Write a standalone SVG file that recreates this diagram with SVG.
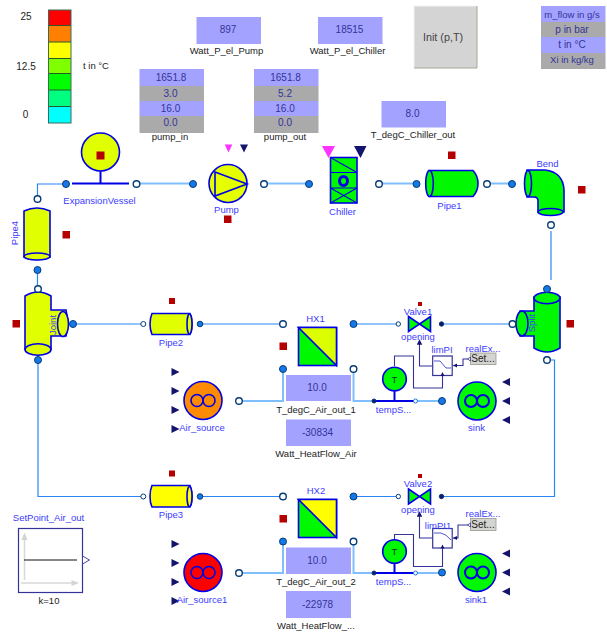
<svg xmlns="http://www.w3.org/2000/svg" width="607" height="633" viewBox="0 0 607 633">
<style>
text{font-family:"Liberation Sans",Arial,sans-serif;font-size:9.5px;text-anchor:middle}
.l{fill:#3c3cff}
.k{fill:#222}
.v{fill:#33339a;font-size:10px}
.vb{fill:#a3a3ff}
.vg{fill:#aaa}
.s{stroke:#0000e6;stroke-width:1.6}
.y{fill:#e0ff00}
.yy{fill:#ffff00}
.g{fill:#00f800}
.r{fill:#b40000}
.n{fill:#14146e}
.m{fill:#ff33ff}
.pf{fill:#1478e6;stroke:#063c78;stroke-width:1}
.po{fill:#fff;stroke:#063c78;stroke-width:1.4}
.c1{fill:none;stroke:#80bfff;stroke-width:2}
.c2{fill:none;stroke:#2a86f5;stroke-width:1.2}
.c3{fill:none;stroke:#33339a;stroke-width:1.1}
.bar{fill:none;stroke:#0000e6;stroke-width:2}
.o{fill:none;stroke:#0000e6;stroke-width:1.6}
</style>
<defs>
<marker id="up" markerWidth="6" markerHeight="6" refX="2.5" refY="2.5" orient="auto"><path d="M0 0L5 2.5L0 5Z" fill="#14146e"/></marker>
</defs>

<g id="connectors">
<path class="c1" d="M136.500 183.500H193M264 183.500H309M379 183.500H416.500M487 183.500H512"/>
<path class="c2" d="M66 184H37.500V199M37.500 270V289"/>
<path class="c2" d="M73 324H143M200 324H283M353.500 324H398M441.500 324H512.500"/>
<path class="c2" d="M38 360V496.500H143M200 496.500H283M353.500 496.500H398M441.500 496.500H554.500V360H547"/>
<path class="c2" d="M551 231V280"/>
<path class="c1" d="M239 401H283V369M239 573H283V541.500"/>
<path class="c1" d="M353.500 369V401H374M416 401H442M353.500 541.500V573H374M416 573H442"/>
<path class="c3" d="M394.500 366V356H413.500V388H442.500V376"/>
<path class="c3" d="M432 366H419.500V342" marker-end="url(#up)"/>
<path class="c3" d="M470 359H463V365.500H453"/>
<path class="c3" d="M394.500 539V534.500H413.500V566.500H442.500V548"/>
<path class="c3" d="M432 538H419.500V514" marker-end="url(#up)"/>
<path class="c3" d="M470 525H458V538H453"/>
</g>

<g id="ColorBar">
<rect x="48.500" y="10" width="22.500" height="15.500" fill="#ff0000"/>
<rect x="48.500" y="25.500" width="22.500" height="16.500" fill="#ff8000"/>
<rect x="48.500" y="42" width="22.500" height="16.500" fill="#ffff00"/>
<rect x="48.500" y="58.500" width="22.500" height="15" fill="#80ff00"/>
<rect x="48.500" y="73.500" width="22.500" height="16.500" fill="#00ff00"/>
<rect x="48.500" y="90" width="22.500" height="16.500" fill="#00ff80"/>
<rect x="48.500" y="106.500" width="22.500" height="16.500" fill="#00ffff"/>
<path d="M48.500 25.500H71M48.500 42H71M48.500 58.500H71M48.500 73.500H71M48.500 90H71M48.500 106.500H71" stroke="#2a5a2a" stroke-width="1" fill="none"/>
<rect x="48.500" y="10" width="22.500" height="113" fill="none" stroke="#3a6a5a" stroke-width="1"/>
<text class="k" x="26" y="20" style="font-size:10px">25</text>
<text class="k" x="26" y="70" style="font-size:10px">12.5</text>
<text class="k" x="25.500" y="117.500" style="font-size:10px">0</text>
<text class="k" x="96" y="69">t in °C</text>
</g>

<g id="Watt_P_el_Pump">
<rect class="vb" x="196.500" y="17" width="64.500" height="27"/>
<text class="v" x="228" y="33">897</text>
<text class="k" x="226.500" y="54">Watt_P_el_Pump</text>
</g>
<g id="Watt_P_el_Chiller">
<rect class="vb" x="318" y="17" width="64.500" height="27"/>
<text class="v" x="349.500" y="33">18515</text>
<text class="k" x="347.500" y="54">Watt_P_el_Chiller</text>
</g>
<g id="pump_in">
<rect class="vb" x="139.500" y="69" width="64.500" height="17"/>
<rect class="vg" x="139.500" y="86" width="64.500" height="15"/>
<rect class="vb" x="139.500" y="101" width="64.500" height="15"/>
<rect class="vg" x="139.500" y="116" width="64.500" height="17"/>
<text class="v" x="171" y="81">1651.8</text>
<text class="v" x="170.500" y="97">3.0</text>
<text class="v" x="170.500" y="111.500">16.0</text>
<text class="v" x="170.500" y="126">0.0</text>
<text class="k" x="170" y="140">pump_in</text>
</g>
<g id="pump_out">
<rect class="vb" x="254" y="69" width="64.500" height="17"/>
<rect class="vg" x="254" y="86" width="64.500" height="15"/>
<rect class="vb" x="254" y="101" width="64.500" height="15"/>
<rect class="vg" x="254" y="116" width="64.500" height="17"/>
<text class="v" x="285.500" y="81">1651.8</text>
<text class="v" x="285" y="97">5.2</text>
<text class="v" x="285" y="111.500">16.0</text>
<text class="v" x="285" y="126">0.0</text>
<text class="k" x="285" y="140">pump_out</text>
</g>
<g id="Init">
<rect x="414" y="6" width="63" height="62" fill="#d4d4d4"/>
<path d="M414 68V6H477" fill="none" stroke="#f2f2f2"/>
<path d="M414 68H477V6" fill="none" stroke="#a8a898"/>
<text x="443" y="40.500" fill="#444" style="font-size:10.800px">Init (p,T)</text>
</g>
<g id="Legend">
<rect class="vb" x="541" y="6" width="64.500" height="16"/>
<rect class="vg" x="541" y="22" width="64.500" height="15"/>
<rect class="vb" x="541" y="37" width="64.500" height="16"/>
<rect class="vg" x="541" y="53" width="64.500" height="16"/>
<text class="v" x="572" y="17.500" style="font-size:9.500px">m_flow in g/s</text>
<text class="v" x="572" y="33">p in bar</text>
<text class="v" x="572" y="48">t in °C</text>
<text class="v" x="572" y="62.500" style="font-size:9.500px">Xi in kg/kg</text>
</g>
<g id="T_degC_Chiller_out">
<rect class="vb" x="381.500" y="101" width="64.500" height="26.500"/>
<text class="v" x="412.500" y="117">8.0</text>
<text class="k" x="413" y="138">T_degC_Chiller_out</text>
</g>

<g id="ExpansionVessel">
<circle class="y s" cx="100.500" cy="152" r="19"/>
<rect class="r" x="96.500" y="151.500" width="8" height="8"/>
<path class="bar" d="M72 183.500H129M100.500 171V183.500"/>
<circle class="pf" cx="66" cy="184" r="3.500"/>
<circle class="po" cx="136.500" cy="184" r="3.300"/>
<text class="l" x="99.500" y="203.500">ExpansionVessel</text>
</g>
<g id="Pump">
<path class="m" d="M224.700 144.500H232.300L228.500 152.500Z"/>
<path class="n" d="M240 144.500H248L244 152.500Z"/>
<circle class="yy s" cx="228" cy="183.500" r="19" style="fill:#e6ff00"/>
<path class="o" d="M215 172L247 184L215 196Z"/>
<rect class="r" x="224" y="215.500" width="7.500" height="7.500"/>
<circle class="pf" cx="193" cy="184" r="3.500"/>
<circle class="po" cx="264" cy="184" r="3.300"/>
<text class="l" x="226.500" y="213">Pump</text>
</g>
<g id="Chiller">
<path class="m" d="M322 146H335L328.500 158Z"/>
<path class="n" d="M354 146H366.500L360.500 158Z"/>
<rect class="g s" x="330.500" y="157.500" width="26.500" height="45.500"/>
<path class="o" d="M330.500 172.500H357M330.500 188H357M330.500 157.500L357 172.500M330.500 188L357 203M357 188L330.500 203" style="stroke-width:1.100"/>
<ellipse cx="343.500" cy="181" rx="4" ry="4.500" fill="none" stroke="#0000e6" stroke-width="3"/>
<circle class="pf" cx="309" cy="184" r="3.500"/>
<circle class="po" cx="379" cy="184" r="3.300"/>
<text class="l" x="342.500" y="215">Chiller</text>
</g>
<g id="Pipe1">
<path class="g s" d="M429 170.500H473Q478 176 478 183.500Q478 191 473 196.500H429Q426 190 426 183.500Q426 177 429 170.500Z"/>
<ellipse class="g s" cx="429.500" cy="183.500" rx="3.800" ry="13"/>
<rect class="r" x="448" y="151.500" width="7.500" height="7.500"/>
<circle class="pf" cx="416.500" cy="184" r="3.500"/>
<circle class="po" cx="487" cy="184" r="3.300"/>
<text class="l" x="449.500" y="209">Pipe1</text>
</g>
<g id="Bend">
<path class="g s" d="M527 170H545Q563 172 564 190V212H538V201Q538 197 534 197H527Z"/>
<ellipse class="g s" cx="528" cy="183.500" rx="3.500" ry="13"/>
<ellipse class="g s" cx="550.500" cy="212" rx="12.500" ry="3.500"/>
<rect class="r" x="578" y="186" width="7.500" height="7.500"/>
<circle class="pf" cx="512" cy="184" r="3.500"/>
<circle class="po" cx="551" cy="225" r="3.300"/>
<text class="l" x="547.500" y="166.500">Bend</text>
</g>
<g id="Pipe4">
<path class="y s" d="M24 211Q37 205 50 211V257Q37 262 24 257Z"/>
<ellipse class="y s" cx="37" cy="256.500" rx="13" ry="3.500"/>
<rect class="r" x="62.500" y="231" width="7.500" height="7.500"/>
<circle class="po" cx="37.500" cy="199" r="3.300"/>
<circle class="pf" cx="37.500" cy="270" r="3.500"/>
<text class="l" x="0" y="0" transform="translate(17.500 233) rotate(-90)">Pipe4</text>
</g>
<g id="Joint">
<path class="y s" d="M25 296Q38 288 51 296V310H66Q69 323 66 336H51V349Q38 358 25 349Z"/>
<ellipse class="y s" cx="38" cy="349.500" rx="13" ry="5.800"/>
<ellipse class="y s" cx="63" cy="324" rx="5.500" ry="12.500"/>
<rect class="r" x="12.500" y="320" width="7.500" height="7.500"/>
<circle class="po" cx="38" cy="289" r="3.300"/>
<circle class="pf" cx="38" cy="360" r="3.500"/>
<circle class="pf" cx="73" cy="324" r="3.500"/>
<text class="l" x="0" y="0" transform="translate(56 325) rotate(-90)">Joint</text>
</g>
<g id="Pipe2">
<path class="y s" d="M152 313.500H190Q192 318 192 324Q192 330 190 334.500H152Q150 330 150 324Q150 318 152 313.500Z"/>
<ellipse class="y s" cx="189.500" cy="324" rx="2.500" ry="10"/>
<rect class="r" x="169" y="298" width="6" height="6"/>
<circle class="pf" cx="143.300" cy="324" r="2.500" style="fill:#fff"/>
<circle class="pf" cx="200" cy="324" r="2.800"/>
<text class="l" x="171" y="346">Pipe2</text>
</g>
<g id="Pipe3">
<path class="yy s" d="M152 485.500H190Q192 490 192 496.500Q192 503 190 507H152Q150 503 150 496.500Q150 490 152 485.500Z"/>
<ellipse class="yy s" cx="189.500" cy="496.500" rx="2.500" ry="10"/>
<rect class="r" x="169" y="470.500" width="6" height="6"/>
<circle class="pf" cx="143.300" cy="496.500" r="2.500" style="fill:#fff"/>
<circle class="pf" cx="200" cy="496.500" r="2.800"/>
<text class="l" x="171" y="518">Pipe3</text>
</g>
<g id="HX1">
<rect class="g s" x="298.500" y="327.500" width="38" height="38"/>
<path d="M298.500 327.500H336.500V365.500Z" fill="#dcff00" stroke="#0000e6" stroke-width="1.600"/>
<rect class="r" x="279.500" y="342.500" width="7.500" height="7.500"/>
<circle class="po" cx="283" cy="324" r="3.300"/>
<circle class="pf" cx="353.500" cy="324" r="3.500"/>
<circle class="pf" cx="283" cy="369" r="3.500"/>
<circle class="po" cx="353.500" cy="369" r="3.300"/>
<text class="l" x="315.500" y="322">HX1</text>
</g>
<g id="HX2">
<rect class="g s" x="298.500" y="499.500" width="38" height="38"/>
<path d="M298.500 499.500H336.500V537.500Z" fill="#ffff00" stroke="#0000e6" stroke-width="1.600"/>
<rect class="r" x="279.500" y="515" width="7.500" height="7.500"/>
<circle class="po" cx="283" cy="496.500" r="3.300"/>
<circle class="pf" cx="353.500" cy="496.500" r="3.500"/>
<circle class="pf" cx="283" cy="541.500" r="3.500"/>
<circle class="po" cx="353.500" cy="541.500" r="3.300"/>
<text class="l" x="316" y="494">HX2</text>
</g>
<g id="Valve1">
<path class="g s" d="M408.500 316.500L430.500 331.500V316.500L408.500 331.500Z"/>
<rect class="r" x="418" y="302" width="4" height="4"/>
<circle class="pf" cx="398.300" cy="324" r="2.200" style="fill:#fff"/>
<circle class="pf" cx="441.500" cy="324" r="2.200" style="fill:#14146e"/>
<text class="l" x="418" y="315">Valve1</text>
<text class="l" x="418" y="339.500">opening</text>
</g>
<g id="Valve2">
<path class="g s" d="M408.500 489L430.500 504V489L408.500 504Z"/>
<rect class="r" x="418" y="474" width="4" height="4"/>
<circle class="pf" cx="398.300" cy="496.500" r="2.200" style="fill:#fff"/>
<circle class="pf" cx="441.500" cy="496.500" r="2.200" style="fill:#14146e"/>
<text class="l" x="418" y="487">Valve2</text>
<text class="l" x="418" y="512.500">opening</text>
</g>
<g id="Split">
<path class="g s" d="M534 297V311H520Q516 323 520 336H534V348Q547 356 560 348V297Z"/>
<ellipse class="g s" cx="547" cy="298" rx="13" ry="5.800"/>
<ellipse class="g s" cx="522" cy="323.500" rx="6" ry="12.500"/>
<rect class="r" x="566.500" y="320" width="7.500" height="7.500"/>
<circle class="pf" cx="547" cy="289" r="3.500"/>
<circle class="po" cx="547" cy="360" r="3.300"/>
<circle class="po" cx="512.500" cy="324" r="3.300"/>
<text class="l" x="0" y="0" transform="translate(535 323) rotate(-90)">Split</text>
</g>
<g id="Air_source">
<path class="n" d="M171.500 368L179.500 372L171.500 376ZM171.500 387L179.500 391L171.500 395ZM171.500 406L179.500 410L171.500 414ZM171.500 425L179.500 429L171.500 433Z"/>
<circle class="s" cx="203" cy="400.500" r="19" fill="#ff8c00"/>
<circle class="o" cx="197" cy="400.500" r="6"/><circle class="o" cx="209" cy="400.500" r="6"/>
<circle class="po" cx="239" cy="401" r="3.300"/>
<text class="l" x="202" y="430.500">Air_source</text>
</g>
<g id="Air_source1">
<path class="n" d="M171.500 540L179.500 544L171.500 548ZM171.500 559L179.500 563L171.500 567ZM171.500 578L179.500 582L171.500 586ZM171.500 597L179.500 601L171.500 605Z"/>
<circle class="s" cx="203" cy="572.500" r="19" fill="#ff0000"/>
<circle class="o" cx="197" cy="572.500" r="6"/><circle class="o" cx="209" cy="572.500" r="6"/>
<circle class="po" cx="239" cy="573" r="3.300"/>
<text class="l" x="202" y="602.500">Air_source1</text>
</g>
<g id="T_degC_Air_out_1">
<rect class="vb" x="286" y="375" width="65" height="26"/>
<text class="v" x="317" y="391">10.0</text>
<text class="k" x="316" y="413">T_degC_Air_out_1</text>
</g>
<g id="Watt_HeatFlow_Air">
<rect class="vb" x="286" y="419.500" width="65" height="26.500"/>
<text class="v" x="317.500" y="435.500">-30834</text>
<text class="k" x="316" y="456.500">Watt_HeatFlow_Air</text>
</g>
<g id="T_degC_Air_out_2">
<rect class="vb" x="286" y="547.500" width="65" height="26.500"/>
<text class="v" x="317" y="563.500">10.0</text>
<text class="k" x="316" y="585">T_degC_Air_out_2</text>
</g>
<g id="Watt_HeatFlow_2">
<rect class="vb" x="286" y="591" width="65" height="27"/>
<text class="v" x="317.500" y="607.500">-22978</text>
<text class="k" x="316" y="628.500">Watt_HeatFlow_...</text>
</g>
<g id="tempSensor1">
<path class="bar" d="M374 401H416M394.500 391V401"/>
<circle class="g s" cx="394.500" cy="379" r="11.800"/>
<text x="394.500" y="382.500" fill="#063c28">T</text>
<circle class="pf" cx="374" cy="401" r="2" style="fill:#14146e"/>
<circle class="pf" cx="415.500" cy="401" r="2" style="fill:#fff;stroke:#1478e6"/>
<circle class="pf" cx="442" cy="401" r="3.500"/>
<text class="l" x="393.500" y="412.500">tempS...</text>
</g>
<g id="tempSensor2">
<path class="bar" d="M374 573H416M394.500 563V573"/>
<circle class="g s" cx="394.500" cy="551.500" r="11.800"/>
<text x="394.500" y="555" fill="#063c28">T</text>
<circle class="pf" cx="374" cy="573" r="2" style="fill:#14146e"/>
<circle class="pf" cx="415.500" cy="573" r="2" style="fill:#fff;stroke:#1478e6"/>
<circle class="pf" cx="442" cy="572.500" r="3.500"/>
<text class="l" x="393.500" y="584.500">tempS...</text>
</g>
<g id="limPI">
<rect x="432.700" y="356" width="19.500" height="19.500" fill="#fff" stroke="#33339a" stroke-width="1.200"/>
<path d="M434 361H440L446 368H451" fill="none" stroke="#5555cc" stroke-width="1"/>
<path class="n" d="M453 365.500L457 363.500V367.500Z M442.500 372L440.500 376H444.500Z"/>
<text class="l" x="442" y="353">limPI</text>
</g>
<g id="limPI1">
<rect x="432.700" y="528.500" width="19.500" height="19.500" fill="#fff" stroke="#33339a" stroke-width="1.200"/>
<path d="M434 533H441Q446 534 451 540" fill="none" stroke="#5555cc" stroke-width="1"/>
<path class="n" d="M453 538L457 536V540Z M442.500 544.500L440.500 548.500H444.500Z"/>
<text class="l" x="438" y="529">limPI1</text>
</g>
<g id="realExpression">
<rect x="470.500" y="353" width="25.500" height="11.500" fill="#d4d4d0" stroke="#9a9a90" stroke-width=".8"/>
<path d="M467.500 359L470.500 357V361Z" fill="#fff" stroke="#33339a" stroke-width=".8"/>
<text x="483" y="362" fill="#222" style="font-size:10px">Set...</text>
<text class="l" x="483" y="351.500">realEx...</text>
</g>
<g id="realExpression1">
<rect x="470.500" y="518.500" width="25.500" height="12" fill="#d4d4d0" stroke="#9a9a90" stroke-width=".8"/>
<path d="M467.500 525L470.500 523V527Z" fill="#fff" stroke="#33339a" stroke-width=".8"/>
<text x="483" y="527.500" fill="#222" style="font-size:10px">Set...</text>
<text class="l" x="483" y="516.500">realEx...</text>
</g>
<g id="sink">
<circle class="g s" cx="477" cy="401" r="19"/>
<circle class="o" cx="471" cy="401" r="6" style="stroke-width:2"/><circle class="o" cx="483" cy="401" r="6" style="stroke-width:2"/>
<path class="n" d="M510 378V386L502 382ZM510 397V405L502 401ZM510 416V424L502 420Z"/>
<text class="l" x="476.500" y="431">sink</text>
</g>
<g id="sink1">
<circle class="g s" cx="477" cy="572.500" r="19"/>
<circle class="o" cx="471" cy="572.500" r="6" style="stroke-width:2"/><circle class="o" cx="483" cy="572.500" r="6" style="stroke-width:2"/>
<path class="n" d="M510 549.500V557.500L502 553.500ZM510 568.500V576.500L502 572.500ZM510 587.500V595.500L502 591.500Z"/>
<text class="l" x="476" y="603">sink1</text>
</g>
<g id="SetPoint_Air_out">
<rect x="18.500" y="528.500" width="64" height="64" fill="#fff" stroke="#333399" stroke-width="1.200"/>
<path d="M24.500 580V538M21 583H73" stroke="#d8d8d8" stroke-width="1.500" fill="none"/>
<path d="M24.500 532.500L21.500 540H27.500ZM79 583L71.500 580V586Z" fill="#d4d4d4"/>
<path d="M24 560H77" stroke="#111" stroke-width="1" fill="none"/>
<path d="M82.500 556L89.500 560L82.500 564Z" fill="#fff" stroke="#333399" stroke-width=".9"/>
<text class="l" x="48.500" y="521">SetPoint_Air_out</text>
<text class="k" x="49" y="604">k=10</text>
</g>
</svg>
